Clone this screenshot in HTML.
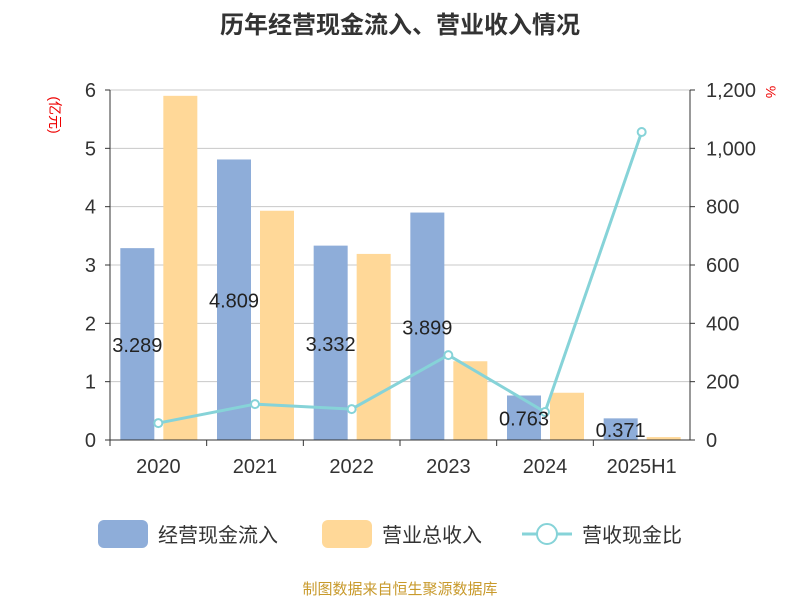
<!DOCTYPE html>
<html><head><meta charset="utf-8"><style>
body{margin:0;background:#fff;font-family:"Liberation Sans","Noto Sans CJK SC",sans-serif}
svg text{font-family:"Liberation Sans","Noto Sans CJK SC",sans-serif}
</style></head><body>
<svg width="800" height="600" id="c">
<text x="400" y="33" text-anchor="middle" font-size="24" font-weight="bold" fill="#333">历年经营现金流入、营业收入情况</text>
<text x="50" y="115" text-anchor="middle" font-size="14" fill="#e00" transform="rotate(90 50 115)">(亿元)</text>
<text x="766" y="92" text-anchor="middle" font-size="14" fill="#e00" transform="rotate(90 766 92)">%</text>
<g id="grid"></g><g id="bars"></g><g id="line"></g><g id="axes"></g><g id="labels"></g>
<g>
<rect x="98" y="520" width="50" height="28" rx="6" fill="#8eadd9"/>
<text x="158" y="542" font-size="20" fill="#333">经营现金流入</text>
<rect x="322" y="520" width="50" height="28" rx="6" fill="#ffd898"/>
<text x="382" y="542" font-size="20" fill="#333">营业总收入</text>
<line x1="522" y1="534" x2="572" y2="534" stroke="#86d3d8" stroke-width="3"/>
<circle cx="547" cy="534" r="10" fill="#fff" stroke="#86d3d8" stroke-width="2"/>
<text x="582" y="542" font-size="20" fill="#333">营收现金比</text>
</g>
<text x="400" y="594" text-anchor="middle" font-size="15" fill="#c89a2c">制图数据来自恒生聚源数据库</text>
</svg>
<script>
const categories=["2020","2021","2022","2023","2024","2025H1"];
const cashInflow=[3.289,4.809,3.332,3.899,0.763,0.371];
const revenue=[5.9,3.93,3.19,1.35,0.81,0.05];
const ratio=[58,123,106,291,96,1056];
const leftTicks=[0,1,2,3,4,5,6];
const rightTicks=["0","200","400","600","800","1,000","1,200"];
const NS="http://www.w3.org/2000/svg";
const X0=110,X1=690,Y0=440,Y1=90;
const bw=(X1-X0)/categories.length;
const yL=v=>Y0-(v/6)*(Y0-Y1);
const yR=v=>Y0-(v/1200)*(Y0-Y1);
const xC=i=>X0+bw*(i+0.5);
function mk(p,t,a){const e=document.createElementNS(NS,t);for(const k in a)e.setAttribute(k,a[k]);document.getElementById(p).appendChild(e);return e;}
leftTicks.forEach((t,i)=>{const y=yL(t);
 const g=mk("grid","line",{x1:X0,x2:X1,y1:y,y2:y,stroke:"#c8c8c8","stroke-width":1});
 
 
 const a=mk("axes","text",{x:X0-14,y:y+7,"text-anchor":"end","font-size":20,fill:"#333"});a.textContent=t;
 
 
 const b=mk("axes","text",{x:X1+16,y:y+7,"font-size":20,fill:"#333"});b.textContent=rightTicks[i];
 
 
 mk("axes","line",{x1:X0-5,x2:X0,y1:y,y2:y,stroke:"#333"});
 mk("axes","line",{x1:X1,x2:X1+5,y1:y,y2:y,stroke:"#333"});
});
mk("axes","line",{x1:X0,x2:X0,y1:Y1,y2:Y0,stroke:"#333"});
mk("axes","line",{x1:X1,x2:X1,y1:Y1,y2:Y0,stroke:"#333"});
mk("axes","line",{x1:X0,x2:X1,y1:Y0,y2:Y0,stroke:"#333"});
categories.forEach((c,i)=>{
 mk("axes","line",{x1:X0+bw*i,x2:X0+bw*i,y1:Y0,y2:Y0+6,stroke:"#333"});
 const t=mk("axes","text",{x:xC(i),y:Y0+33,"text-anchor":"middle","font-size":20,fill:"#333"});t.textContent=c;
 
 
 const b1=mk("bars","rect",{x:xC(i)-38,y:yL(cashInflow[i]),width:34,height:Y0-yL(cashInflow[i]),fill:"#8eadd9"});
 
 
 const b2=mk("bars","rect",{x:xC(i)+5,y:yL(revenue[i]),width:34,height:Y0-yL(revenue[i]),fill:"#ffd898"});
 
 
 const l=mk("labels","text",{x:xC(i)-21,y:(yL(cashInflow[i])+Y0)/2+8,"text-anchor":"middle","font-size":20,fill:"#222"});l.textContent=cashInflow[i].toFixed(3);
 
 
});
const pts=ratio.map((v,i)=>xC(i)+","+yR(v)).join(" ");
const pl=mk("line","polyline",{points:pts,fill:"none",stroke:"#86d3d8","stroke-width":3});


ratio.forEach((v,i)=>{const c=mk("line","circle",{cx:xC(i),cy:yR(v),r:4,fill:"#fff",stroke:"#86d3d8","stroke-width":2});
 
 });
</script>
</body></html>
